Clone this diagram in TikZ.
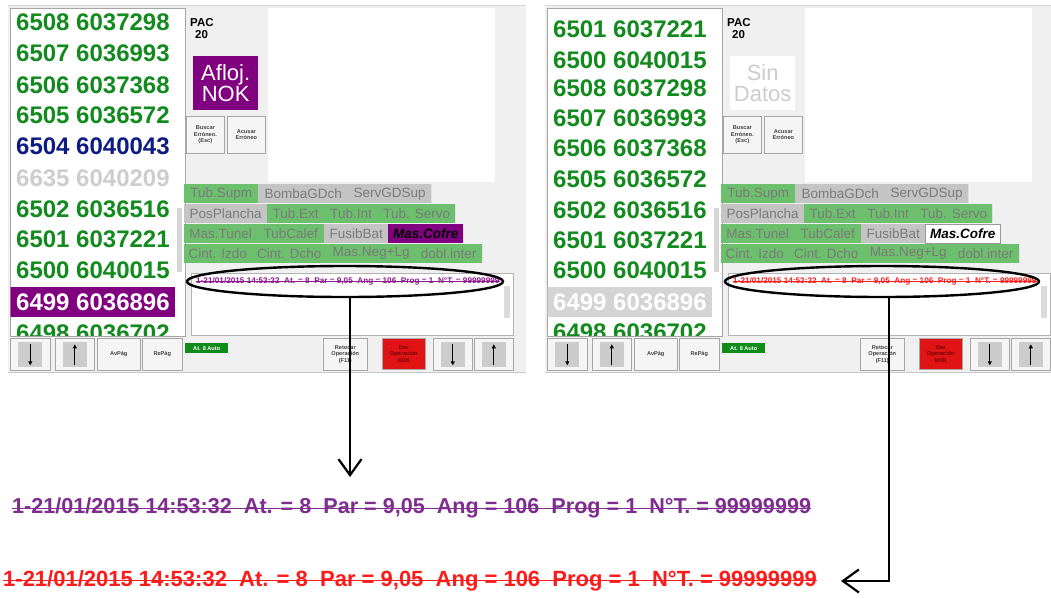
\documentclass[tikz,border=0pt]{standalone}
\usepackage{fontspec}
\setmainfont{Liberation Sans}
\usetikzlibrary{arrows.meta,shapes.geometric}

\definecolor{panelbg}{HTML}{F0F0F0}
\definecolor{listgreen}{HTML}{128A1E}
\definecolor{listblue}{HTML}{0C1C82}
\definecolor{listgray}{HTML}{CDCDCD}
\definecolor{nokpurple}{HTML}{800080}
\definecolor{tabgreen}{HTML}{6CBF6C}
\definecolor{tabgray}{HTML}{C4C4C4}
\definecolor{tabtext}{HTML}{7A7A7A}
\definecolor{btnface}{HTML}{F5F5F5}
\definecolor{btnedge}{HTML}{A6A6A6}
\definecolor{nokred}{HTML}{E01414}
\definecolor{autogreen}{HTML}{118C1B}
\definecolor{logred}{HTML}{FF2020}
\definecolor{logpurple}{HTML}{8E1A8E}
\definecolor{bigpurple}{HTML}{7E2D8E}
\definecolor{bigred}{HTML}{FF1A1A}

\tikzset{
  listrow/.style={anchor=west, inner sep=0pt, font=\fontsize{24}{24}\selectfont\bfseries},
  tabbase/.style={anchor=north west, inner sep=0pt, minimum height=19pt,
    font=\fontsize{13.5}{13.5}\selectfont, text=tabtext,
    path picture={\draw[line width=1.3pt, black!55]
      (path picture bounding box.north east) -- (path picture bounding box.south east);}},
  tabon/.style={tabbase, fill=tabgreen},
  taboff/.style={tabbase, fill=tabgray},
  cofreon/.style={tabbase, fill=nokpurple, text=black},
  cofreoff/.style={tabbase, fill=white, draw=black!40, line width=0.5pt, text=black},
  btn/.style={anchor=north west, inner sep=0pt, fill=btnface, draw=btnedge, line width=0.6pt,
    align=center, font=\fontsize{5.6}{6.4}\selectfont\bfseries, text=black!75},
  keypad/.style={fill=black!20, minimum width=24pt, minimum height=25pt, inner sep=0pt},
  keyarrow/.style={line width=1.2pt, -{Triangle[length=4pt,width=4pt]}},
  pac/.style={anchor=west, inner sep=0pt, font=\fontsize{11.5}{11.5}\selectfont\bfseries},
  statusbox/.style={anchor=north west, inner sep=0pt, minimum width=65pt, minimum height=54pt,
    align=center, font=\fontsize{22}{21}\selectfont},
  logline/.style={anchor=west, inner sep=0pt, font=\fontsize{8.2}{8.2}\selectfont\bfseries},
  bigline/.style={anchor=west, inner sep=0pt, font=\bfseries},
  ring/.style={ellipse, draw=black, line width=2.4pt, inner sep=0pt},
  callout/.style={line width=2.2pt, -{Straight Barb[length=16pt,width=23pt]}},
}

% one operator screen: list frame, info column, fault tabs, log box and key bar
\newcommand\screenpanel[3]{%
  \fill[panelbg] (8,5) rectangle (526,372);
  \draw[black!15, line width=0.6pt] (8,5) -- (526,5);
  \draw[black!22, line width=0.8pt] (8,372) -- (526,372);
  \node[anchor=north west, fill=white, draw=black!35, line width=0.6pt, inner sep=0pt,
        minimum width=175pt, minimum height=328pt] (#1-list) at (10,8) {};
  \fill[black!16] (177,208) rectangle (182,272);
  \node[pac] (#1-pac) at (190,23) {PAC};
  \node[pac] (#1-pacn) at (195,35) {20};
  \node[btn, minimum width=38pt, minimum height=37pt] (#1-buscar) at (186,116) {Buscar\\Erróneo.\\(Esc)};
  \node[btn, minimum width=38pt, minimum height=37pt] (#1-acusar) at (227,116) {Acusar\\Erróneo};
  \node[anchor=north west, fill=white, inner sep=0pt, minimum width=227pt, minimum height=174pt] (#1-view) at (268,8) {};
  % fault tabs
  \node[tabon,  minimum width=74pt] (#1-t1)  at (184,184) {Tub.Supm};
  \node[taboff, minimum width=90pt] (#1-t2)  at (258,184) {BombaGDch};
  \node[taboff, minimum width=83pt] (#1-t3)  at (348,184) {ServGDSup};
  \node[taboff, minimum width=83pt] (#1-t4)  at (184,204) {PosPlancha};
  \node[tabon,  minimum width=57pt] (#1-t5)  at (267,204) {Tub.Ext};
  \node[tabon,  minimum width=54pt] (#1-t6)  at (324,204) {Tub.Int};
  \node[tabon,  minimum width=77pt] (#1-t7)  at (378,204) {Tub. Servo};
  \node[tabon,  minimum width=73pt] (#1-t8)  at (184,224) {Mas.Tunel};
  \node[tabon,  minimum width=67pt] (#1-t9)  at (257,224) {TubCalef};
  \node[taboff, minimum width=64pt] (#1-t10) at (324,224) {FusibBat};
  \node[#2,     minimum width=75pt] (#1-t11) at (388,224) {\bfseries\itshape Mas.Cofre};
  \node[tabon,  minimum width=67pt] (#1-t12) at (184,244) {Cint. Izdo};
  \node[tabon,  minimum width=76pt] (#1-t13) at (251,244) {Cint. Dcho};
  \node[tabon,  minimum width=88pt] (#1-t14) at (327,244) {Mas.Neg+Lg};
  \node[tabon,  minimum width=67pt] (#1-t15) at (415,244) {dobl.inter};
  % log box
  \node[anchor=north west, fill=white, draw=black!30, line width=0.5pt, inner sep=0pt,
        minimum width=322pt, minimum height=62pt] (#1-logbox) at (191,273) {};
  \fill[black!14] (504,286) rectangle (510,318);
  \node[logline, text=#3] (#1-log) at (196,281)
    {1-21/01/2015 14:53:32\ \ At. = 8\ \ Par = 9,05\ \ Ang = 106\ \ Prog = 1\ \ N°T. = 99999999};
  \draw[#3, line width=0.6pt] ([yshift=2.1pt]#1-log.base west) -- ([yshift=2.1pt]#1-log.base east);
  % key bar
  \node[btn, minimum width=40pt, minimum height=32pt] (#1-dn1) at (10,338) {};
  \node[btn, minimum width=39pt, minimum height=32pt] (#1-up1) at (55,338) {};
  \node[btn, minimum width=43pt, minimum height=32pt] (#1-avpag) at (97,338) {AvPág};
  \node[btn, minimum width=40pt, minimum height=32pt] (#1-repag) at (142,338) {RePág};
  \node[anchor=north west, inner sep=0pt, fill=autogreen, minimum width=43pt, minimum height=10pt,
        font=\fontsize{5.6}{5.6}\selectfont\bfseries, text=white] (#1-auto) at (185,343) {At. 8 Auto};
  \node[btn, minimum width=44pt, minimum height=32pt] (#1-retocar) at (323,338) {Retocar\\Operación\\(F11)};
  \node[btn, fill=nokred, draw=black!35, text=red!45!black, minimum width=43pt, minimum height=31pt]
        (#1-dar) at (382,338) {Dar\\Operación\\NOK};
  \node[btn, minimum width=39pt, minimum height=32pt] (#1-dn2) at (433,338) {};
  \node[btn, minimum width=39pt, minimum height=32pt] (#1-up2) at (474,338) {};
  \foreach \k in {dn1,up1,dn2,up2} {\node[keypad] (#1-pad-\k) at (#1-\k.center) {};}
  \draw[keyarrow] ([yshift=10pt]#1-pad-dn1.center) -- ([yshift=-11pt]#1-pad-dn1.center);
  \draw[keyarrow] ([yshift=-11pt]#1-pad-up1.center) -- ([yshift=10pt]#1-pad-up1.center);
  \draw[keyarrow] ([yshift=10pt]#1-pad-dn2.center) -- ([yshift=-11pt]#1-pad-dn2.center);
  \draw[keyarrow] ([yshift=-11pt]#1-pad-up2.center) -- ([yshift=10pt]#1-pad-up2.center);
}

\begin{document}
\begin{tikzpicture}[x=1pt, y=-1pt]
\useasboundingbox (0,0) rectangle (1051,598);
\clip (0,0) rectangle (1051,598);
\fill[white] (0,0) rectangle (1051,598);

% ---------- screen with the loosening fault ----------
\screenpanel{L}{cofreon}{logpurple}
\node[statusbox, fill=nokpurple, text=white] (L-status) at (193,56) {Afloj.\\NOK};
\begin{scope}
  \clip (10.5,8.5) rectangle (175,335.5);
  \fill[nokpurple] (10,287) rectangle (175,317);
  \node[listrow, text=listgreen] (L-r1)  at (16,22)  {6508 6037298};
  \node[listrow, text=listgreen] (L-r2)  at (16,53)  {6507 6036993};
  \node[listrow, text=listgreen] (L-r3)  at (16,85)  {6506 6037368};
  \node[listrow, text=listgreen] (L-r4)  at (16,115) {6505 6036572};
  \node[listrow, text=listblue]  (L-r5)  at (16,146) {6504 6040043};
  \node[listrow, text=listgray]  (L-r6)  at (16,178) {6635 6040209};
  \node[listrow, text=listgreen] (L-r7)  at (16,209) {6502 6036516};
  \node[listrow, text=listgreen] (L-r8)  at (16,239) {6501 6037221};
  \node[listrow, text=listgreen] (L-r9)  at (16,270) {6500 6040015};
  \node[listrow, text=white]     (L-r10) at (16,302) {6499 6036896};
  \node[listrow, text=listgreen] (L-r11) at (16,333) {6498 6036702};
\end{scope}
\node[ring, minimum width=316pt, minimum height=31pt] (ellL) at (345,281.5) {};

% ---------- screen without data ----------
\begin{scope}[xshift=537pt]
\screenpanel{R}{cofreoff}{logred}
\node[statusbox, fill=white, text=black!20] (R-status) at (193,56) {Sin\\Datos};
\begin{scope}
  \clip (10.5,8.5) rectangle (175,335.5);
  \fill[black!17] (10,287) rectangle (175,317);
  \node[listrow, text=listgreen] (R-r1)  at (16,29)  {6501 6037221};
  \node[listrow, text=listgreen] (R-r2)  at (16,60)  {6500 6040015};
  \node[listrow, text=listgreen] (R-r3)  at (16,88)  {6508 6037298};
  \node[listrow, text=listgreen] (R-r4)  at (16,118) {6507 6036993};
  \node[listrow, text=listgreen] (R-r5)  at (16,148) {6506 6037368};
  \node[listrow, text=listgreen] (R-r6)  at (16,179) {6505 6036572};
  \node[listrow, text=listgreen] (R-r7)  at (16,210) {6502 6036516};
  \node[listrow, text=listgreen] (R-r8)  at (16,240) {6501 6037221};
  \node[listrow, text=listgreen] (R-r9)  at (16,270) {6500 6040015};
  \node[listrow, text=white]     (R-r10) at (16,302) {6499 6036896};
  \node[listrow, text=listgreen] (R-r11) at (16,332) {6498 6036702};
\end{scope}
\node[ring, minimum width=314pt, minimum height=31pt] (ellR) at (345,281.5) {};
\end{scope}

% ---------- enlarged log lines ----------
\node[bigline, text=bigpurple, font=\fontsize{21.6}{21.6}\selectfont\bfseries] (bigP) at (12,508)
  {1-21/01/2015 14:53:32\ \ At. = 8\ \ Par = 9,05\ \ Ang = 106\ \ Prog = 1\ \ N°T. = 99999999};
\draw[bigpurple, line width=1.4pt] ([yshift=5.2pt]bigP.base west) -- ([yshift=5.2pt]bigP.base east);
\node[bigline, text=bigred, font=\fontsize{22}{22}\selectfont\bfseries] (bigR) at (3,581)
  {1-21/01/2015 14:53:32\ \ At. = 8\ \ Par = 9,05\ \ Ang = 106\ \ Prog = 1\ \ N°T. = 99999999};
\draw[bigred, line width=1.4pt] ([yshift=6pt]bigR.base west) -- ([yshift=6pt]bigR.base east);

% ---------- callout arrows ----------
\coordinate (tipL) at (350,477);
\draw[callout] (ellL.south -| tipL) -- (tipL);
\coordinate (bendR) at (889,581);
\coordinate (tipR) at (841,581);
\draw[callout] (ellR.south -| bendR) -- (bendR) -- (tipR);
\end{tikzpicture}
\end{document}
